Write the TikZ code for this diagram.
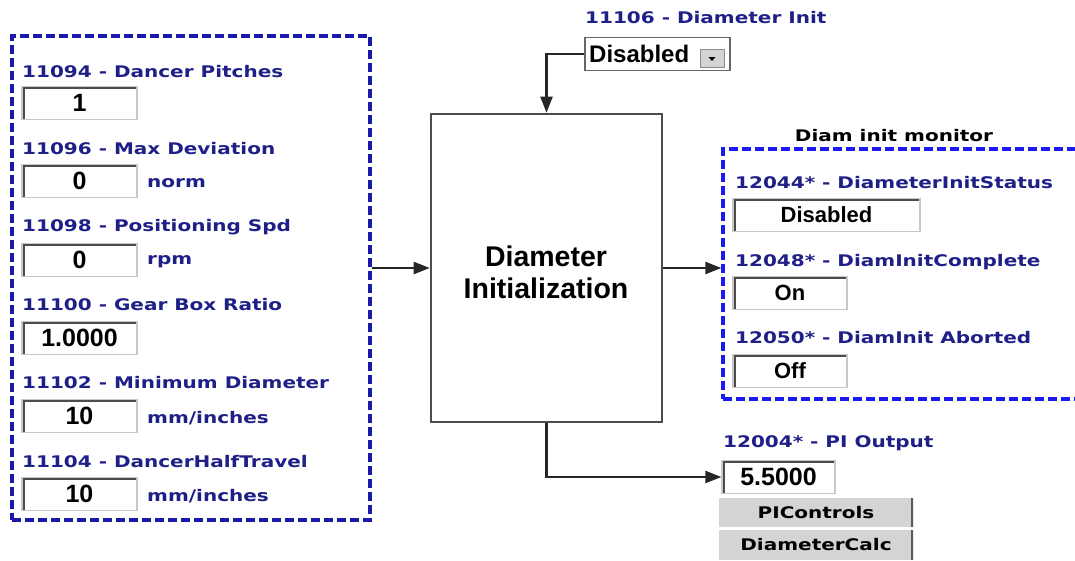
\documentclass[tikz,border=0pt]{standalone}
\usepackage{fontspec}
\usetikzlibrary{arrows.meta}
\newfontfamily\lblfam[FakeStretch=1.25]{DejaVu Sans}
\newfontfamily\arialfam{Liberation Sans}
\definecolor{lblblue}{HTML}{1F1F88}
\definecolor{lpblue}{HTML}{1A1AA8}
\definecolor{rpblue}{HTML}{1A1AF0}
\definecolor{btngray}{HTML}{D4D4D4}
\tikzset{
  lbl/.style={anchor=west, inner sep=0pt, text=lblblue, font=\lblfam\bfseries\fontsize{16}{19}\selectfont},
  blk/.style={inner sep=0pt, text=black, font=\lblfam\bfseries\fontsize{16}{19}\selectfont},
  field/.style={draw=black!22, line width=1.2pt, fill=white, minimum height=33, inner sep=0pt,
    font=\arialfam\bfseries\fontsize{25}{28}\selectfont,
    path picture={\draw[line width=5pt, black!70] (path picture bounding box.south west) -- (path picture bounding box.north west) -- (path picture bounding box.north east);}},
  panelL/.style={draw=lpblue, line width=3.2pt, dash pattern=on 9pt off 4pt},
  panelR/.style={draw=rpblue, line width=3.2pt, dash pattern=on 9pt off 4pt},
  conn/.style={draw=black!85, line width=2.2pt, -{Triangle[length=16pt,width=12pt]}},
  btn/.style={fill=btngray, minimum width=194, minimum height=30, inner sep=0pt,
    font=\lblfam\bfseries\fontsize{16}{19}\selectfont,
    path picture={\draw[line width=4pt, black!65] (path picture bounding box.south east) -- (path picture bounding box.north east);}},
}
\begin{document}
\begin{tikzpicture}[x=1pt,y=-1pt]
\useasboundingbox (0,0) rectangle (1075,560);
\clip (0,0) rectangle (1075,560);
\fill[white] (0,0) rectangle (1075,560);

% left panel
\node[panelL, minimum width=358, minimum height=484, inner sep=0pt] (lp) at (191,278) {};
\node[lbl] (l1) at (22,72) {11094 - Dancer Pitches};
\node[field, minimum width=115] (v1) at (79.5,103) {1};
\node[lbl] (l2) at (22,149) {11096 - Max Deviation};
\node[field, minimum width=115] (v2) at (79.5,181) {0};
\node[lbl] (u2) at (147,183) {norm};
\node[lbl] (l3) at (22,227) {11098 - Positioning Spd};
\node[field, minimum width=115] (v3) at (79.5,260) {0};
\node[lbl] (u3) at (147,262) {rpm};
\node[lbl] (l4) at (22,305) {11100 - Gear Box Ratio};
\node[field, minimum width=115] (v4) at (79.5,338) {1.0000};
\node[lbl] (l5) at (22,383) {11102 - Minimum Diameter};
\node[field, minimum width=115] (v5) at (79.5,416) {10};
\node[lbl] (u5) at (147,418) {mm/inches};
\node[lbl] (l6) at (22,462) {11104 - DancerHalfTravel};
\node[field, minimum width=115] (v6) at (79.5,494) {10};
\node[lbl] (u6) at (147,496) {mm/inches};

% centre block
\node[draw=black!70, line width=2.6pt, fill=white, minimum width=231, minimum height=308] (cb) at (546.5,268) {};
\node[align=center, inner sep=0pt, font=\arialfam\bfseries\fontsize{28.5}{32}\selectfont] (cbt) at (546,272) {Diameter\\Initialization};

% top dropdown
\node[lbl] (ltop) at (585,18) {11106 - Diameter Init};
\node[draw=black!60, line width=1.8pt, fill=white, minimum width=145, minimum height=33, inner sep=0pt] (dd) at (657.5,54) {};
\node[anchor=west, inner sep=0pt, font=\arialfam\bfseries\fontsize{24}{27}\selectfont] (ddt) at (589,54) {Disabled};
\node[draw=black!45, fill=btngray, minimum width=24, minimum height=18, inner sep=0pt] (ddb) at (712,58) {};
\fill[black] ([xshift=-3.5pt,yshift=1pt]ddb.center) -- ([xshift=3.5pt,yshift=1pt]ddb.center) -- ([yshift=-3pt]ddb.center) -- cycle;

% right panel
\node[panelR, minimum width=370, minimum height=250, inner sep=0pt] (rp) at (908,274) {};
\node[blk] (mon) at (894,136) {Diam init monitor};
\node[lbl] (r1) at (735,183) {12044* - DiameterInitStatus};
\node[field, minimum width=187, font=\arialfam\bfseries\fontsize{22}{25}\selectfont] (rv1) at (826.5,215) {Disabled};
\node[lbl] (r2) at (735,262) {12048* - DiamInitComplete};
\node[field, minimum width=114, font=\arialfam\bfseries\fontsize{22}{25}\selectfont] (rv2) at (790,293) {On};
\node[lbl] (r3) at (735,338) {12050* - DiamInit Aborted};
\node[field, minimum width=114, font=\arialfam\bfseries\fontsize{22}{25}\selectfont] (rv3) at (790,371) {Off};

% PI output
\node[lbl] (pil) at (723,443) {12004* - PI Output};
\node[field, minimum width=113] (piv) at (778.5,477) {5.5000};
\node[btn] (b1) at (816,513) {PIControls};
\node[btn] (b2) at (816,545) {DiameterCalc};
\draw[white, line width=2pt] (b1.south west) -- (b1.south east);

% connectors
\draw[conn] (cb.west -| lp.east) -- (cb.west);
\draw[conn] (cb.east) -- (cb.east -| rp.west);
\draw[conn] (dd.west) -| (cb.north);
\draw[conn] (cb.south) |- (piv.west);
\end{tikzpicture}
\end{document}
